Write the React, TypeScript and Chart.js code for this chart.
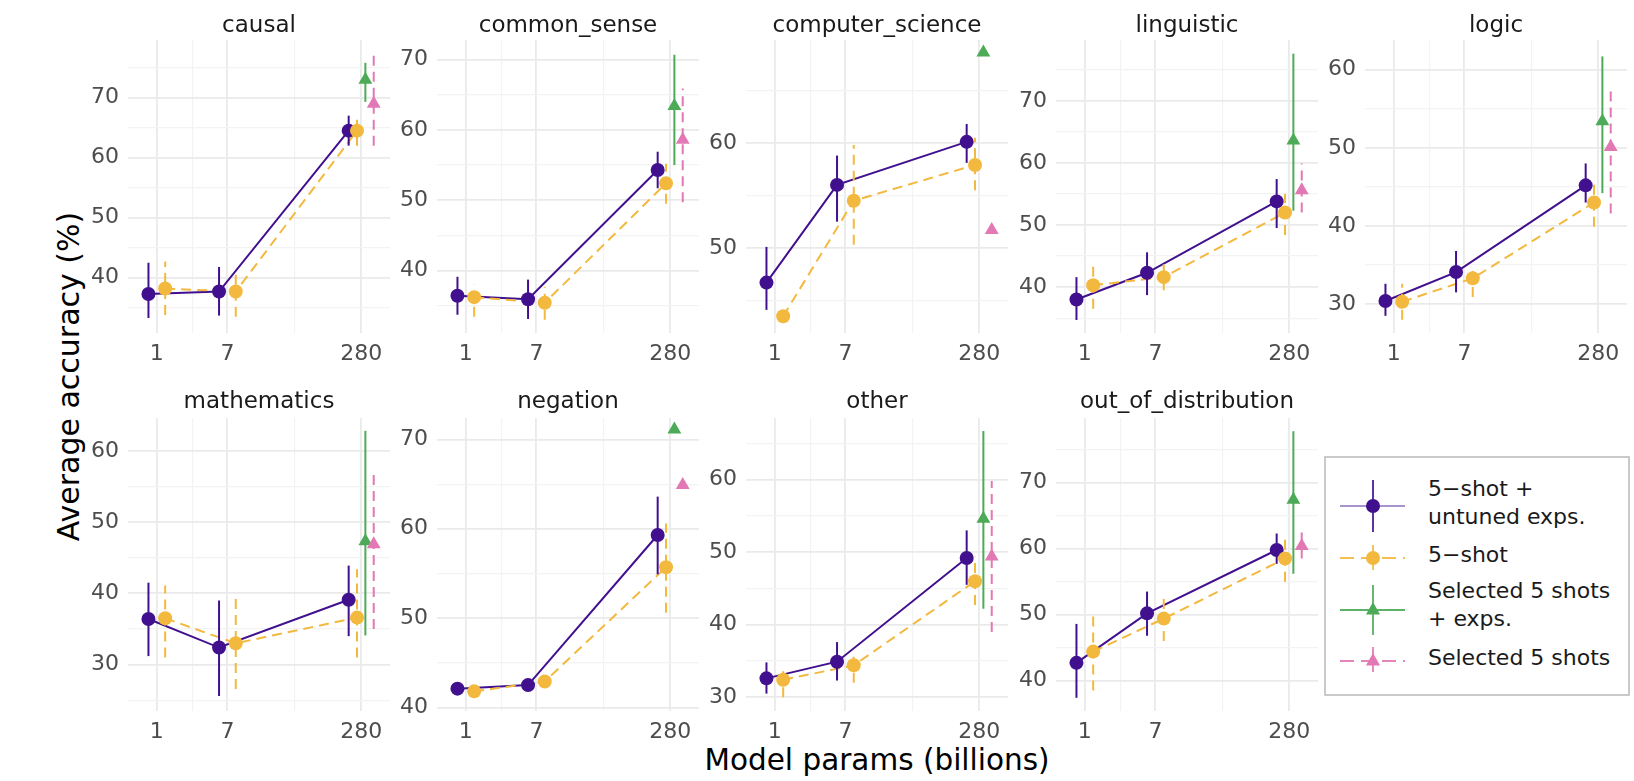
import React, { useEffect, useRef } from "react";
import { Chart, registerables } from "chart.js";

Chart.register(...registerables);
Chart.defaults.font.family = "'DejaVu Sans', 'Liberation Sans', sans-serif";

// ---------------- data ----------------
const FACETS = [
  "causal",
  "common_sense",
  "computer_science",
  "linguistic",
  "logic",
  "mathematics",
  "negation",
  "other",
  "out_of_distribution",
];
const MODEL_PARAMS = [1, 7, 280];
const X_TICK_LABELS = ["1", "7", "280"];
const SERIES_LABELS = [
  ["5\u2212shot +", "untuned exps."],
  ["5\u2212shot"],
  ["Selected 5 shots", "+ exps."],
  ["Selected 5 shots"],
];

// 5-shot + untuned exps. (per facet: at 1B, 7B, 280B)
const untunedMean = [
  [37.3, 37.7, 64.5],
  [36.4, 35.9, 54.3],
  [46.7, 56.0, 60.1],
  [38.0, 42.3, 53.8],
  [30.4, 34.1, 45.2],
  [36.4, 32.4, 39.1],
  [42.1, 42.5, 59.3],
  [32.6, 34.9, 49.2],
  [42.7, 50.2, 59.8],
];
const untunedLow = [
  [33.3, 33.7, 62.0],
  [33.7, 33.1, 51.7],
  [44.1, 52.5, 58.1],
  [34.7, 38.7, 49.5],
  [28.5, 31.5, 43.0],
  [31.2, 25.6, 34.0],
  [41.7, 42.1, 54.9],
  [30.5, 32.3, 45.5],
  [37.4, 46.8, 57.7],
];
const untunedHigh = [
  [42.5, 41.8, 67.0],
  [39.1, 38.7, 56.9],
  [50.1, 58.8, 61.8],
  [41.6, 45.6, 57.4],
  [32.6, 36.8, 48.0],
  [41.5, 39.0, 43.9],
  [42.5, 42.9, 63.6],
  [34.8, 37.6, 53.0],
  [48.6, 53.5, 62.3],
];

// 5-shot
const fiveShotMean = [
  [38.2, 37.7, 64.5],
  [36.2, 35.4, 52.4],
  [43.5, 54.5, 57.9],
  [40.3, 41.6, 52.0],
  [30.3, 33.3, 43.0],
  [36.5, 33.0, 36.6],
  [41.8, 42.9, 55.7],
  [32.4, 34.4, 46.0],
  [44.4, 49.4, 58.5],
];
const fiveShotLow = [
  [33.8, 33.5, 62.0],
  [33.4, 33.0, 49.5],
  [43.5, 50.3, 55.5],
  [36.5, 39.5, 48.4],
  [28.0, 30.9, 39.9],
  [31.0, 26.6, 31.0],
  [41.5, 42.5, 50.6],
  [30.0, 32.0, 42.7],
  [38.5, 46.0, 55.0],
];
const fiveShotHigh = [
  [42.7, 40.8, 66.8],
  [38.0, 37.7, 55.2],
  [43.5, 59.8, 60.5],
  [44.1, 44.0, 55.0],
  [32.6, 35.0, 45.3],
  [41.1, 39.2, 43.4],
  [42.1, 43.3, 60.6],
  [34.3, 36.3, 49.4],
  [49.9, 53.2, 61.5],
];

// Selected 5 shots + exps. (280B only, per facet)
const selectedExpMean = [73.0, 63.4, 68.6, 63.6, 53.4, 47.3, 71.1, 54.6, 67.4];
const selectedExpLow = [69.3, 55.0, 68.6, 52.3, 44.2, 34.1, 71.1, 42.2, 56.2];
const selectedExpHigh = [75.8, 70.7, 68.6, 77.6, 61.7, 62.8, 71.1, 66.7, 77.8];

// Selected 5 shots (280B only, per facet)
const selectedMean = [69.0, 58.6, 51.7, 55.6, 50.1, 46.9, 64.9, 49.4, 60.4];
const selectedLow = [62.0, 49.7, 51.7, 52.0, 41.6, 35.0, 64.9, 39.0, 58.5];
const selectedHigh = [77.2, 65.9, 51.7, 59.9, 57.8, 56.6, 64.9, 59.8, 62.6];

// y-axis ranges per facet (free scales)
const yAxisMin = [30.8, 31.1, 41.9, 32.6, 26.3, 23.5, 39.6, 28.1, 35.4];
const yAxisMax = [79.6, 72.8, 69.8, 79.8, 63.8, 64.6, 72.4, 68.5, 79.8];

// ---------------- styling / layout ----------------
const PURPLE = "#41108E";
const ORANGE = "#F3B93F";
const GREEN = "#4DAA57";
const PINK = "#E278B4";
const DASH = [10, 6];

const X_MIN = -0.345;
const X_MAX = 2.792;
const DODGE = 0.4;

const PANEL_W = 262;
const PANEL_H = 293;
const COL_LEFTS = [128, 437, 746, 1056, 1365];
const ROW_TOPS = [40, 418];
const YW = 72;
const TOPPAD = 40;
const XH = 44;
const RIGHTPAD = 8;

const log10 = (v: number) => Math.log10(v);
const majorX = MODEL_PARAMS.map(log10);
const minorX = majorX.slice(0, -1).map((v, i) => (v + majorX[i + 1]) / 2);
const xGrid = [...majorX, ...minorX].sort((a, b) => a - b);
const isMajorX = (v: number) => majorX.some((m) => Math.abs(m - v) < 1e-6);

const dodge = (k: number, n: number) => (k - (n - 1) / 2) * (DODGE / n);

const stripTitle = {
  id: "stripTitle",
  afterDraw(chart: any, _args: any, opts: any) {
    const { ctx, chartArea } = chart;
    ctx.save();
    ctx.font = "23px 'DejaVu Sans'";
    ctx.fillStyle = "#1A1A1A";
    ctx.textAlign = "center";
    ctx.textBaseline = "alphabetic";
    ctx.fillText(opts.text, (chartArea.left + chartArea.right) / 2, chartArea.top + opts.offset);
    ctx.restore();
  },
};

function buildDatasets(i: number) {
  const ds: any[] = [];
  const line = (pts: any[], color: string, dash: number[]) => ({
    data: pts,
    showLine: true,
    borderColor: color,
    borderWidth: 2,
    borderDash: dash,
    pointRadius: 0,
    pointHoverRadius: 0,
  });
  const points = (pts: any[], color: string, style: string, r: number) => ({
    data: pts,
    showLine: false,
    pointStyle: style,
    pointRadius: r,
    pointHoverRadius: r,
    pointBackgroundColor: color,
    pointBorderColor: color,
    pointBorderWidth: 0,
  });

  const series = [
    { mean: untunedMean[i], lo: untunedLow[i], hi: untunedHigh[i], color: PURPLE, dash: [] as number[] },
    { mean: fiveShotMean[i], lo: fiveShotLow[i], hi: fiveShotHigh[i], color: ORANGE, dash: DASH },
  ];
  const xOf = (j: number, k: number) => majorX[j] + dodge(k, j < 2 ? 2 : 4);

  // connecting lines
  series.forEach((s, k) => {
    ds.push(line(s.mean.map((y, j) => ({ x: xOf(j, k), y })), s.color, s.dash));
  });
  // pointranges for the two full series
  series.forEach((s, k) => {
    s.mean.forEach((_, j) => {
      ds.push(line([{ x: xOf(j, k), y: s.lo[j] }, { x: xOf(j, k), y: s.hi[j] }], s.color, s.dash));
    });
    ds.push(points(s.mean.map((y, j) => ({ x: xOf(j, k), y })), s.color, "circle", 7));
  });
  // selected shots series (280B only)
  const extra = [
    { mean: selectedExpMean[i], lo: selectedExpLow[i], hi: selectedExpHigh[i], color: GREEN, dash: [] as number[] },
    { mean: selectedMean[i], lo: selectedLow[i], hi: selectedHigh[i], color: PINK, dash: DASH },
  ];
  extra.forEach((s, e) => {
    const x = majorX[2] + dodge(2 + e, 4);
    ds.push(line([{ x, y: s.lo }, { x, y: s.hi }], s.color, s.dash));
    ds.push(points([{ x, y: s.mean }], s.color, "triangle", 8));
  });
  ds.forEach((d, idx) => (d.order = -idx));
  return ds;
}

function Facet({ index }: { index: number }) {
  const ref = useRef<HTMLCanvasElement>(null);
  const col = index % 5;
  const row = Math.floor(index / 5);
  const left = COL_LEFTS[col];
  const top = ROW_TOPS[row];
  const cw = YW + PANEL_W + RIGHTPAD;
  const ch = TOPPAD + PANEL_H + XH;

  useEffect(() => {
    if (!ref.current) return;
    const chart = new Chart(ref.current, {
      type: "scatter",
      data: { datasets: buildDatasets(index) },
      plugins: [stripTitle],
      options: {
        animation: false,
        responsive: false,
        events: [],
        layout: { padding: { top: TOPPAD, right: RIGHTPAD, left: 0, bottom: 0 } },
        plugins: {
          legend: { display: false },
          tooltip: { enabled: false },
          stripTitle: { text: FACETS[index], offset: row === 0 ? -8.5 : -10 },
        } as any,
        scales: {
          x: {
            type: "linear",
            min: X_MIN,
            max: X_MAX,
            afterBuildTicks: (s: any) => {
              s.ticks = xGrid.map((v) => ({ value: v }));
            },
            afterFit: (s: any) => {
              s.height = XH;
            },
            ticks: {
              autoSkip: false,
              maxRotation: 0,
              padding: 8,
              color: "#4D4D4D",
              font: { size: 22 },
              callback: (v: any) => {
                const idx = majorX.findIndex((m) => Math.abs(m - v) < 1e-6);
                return idx >= 0 ? X_TICK_LABELS[idx] : "";
              },
            },
            grid: {
              drawTicks: false,
              color: (c: any) => (isMajorX(c.tick.value) ? "#EAEAEA" : "#F3F3F3"),
              lineWidth: (c: any) => (isMajorX(c.tick.value) ? 1.8 : 1.2),
            },
            border: { display: false },
          },
          y: {
            type: "linear",
            min: yAxisMin[index],
            max: yAxisMax[index],
            afterBuildTicks: (s: any) => {
              const t = [];
              for (let v = Math.ceil(s.min / 5) * 5; v <= s.max + 1e-9; v += 5) t.push({ value: v });
              s.ticks = t;
            },
            afterFit: (s: any) => {
              s.width = YW;
            },
            ticks: {
              autoSkip: false,
              padding: 9,
              color: "#4D4D4D",
              font: { size: 22 },
              callback: (v: any) => (Math.round(v) % 10 === 0 ? String(Math.round(v)) : ""),
            },
            grid: {
              drawTicks: false,
              color: (c: any) => (Math.round(c.tick.value) % 10 === 0 ? "#EAEAEA" : "#F3F3F3"),
              lineWidth: (c: any) => (Math.round(c.tick.value) % 10 === 0 ? 1.8 : 1.2),
            },
            border: { display: false },
          },
        },
      },
    } as any);
    return () => chart.destroy();
  }, [index]);

  return (
    <canvas
      ref={ref}
      width={cw}
      height={ch}
      style={{ position: "absolute", left: left - YW, top: top - TOPPAD, width: cw, height: ch }}
    />
  );
}

function Legend() {
  const colors = [PURPLE, ORANGE, GREEN, PINK];
  const keyY = [506, 558, 610, 661];
  const barHalf = [26, 13, 25, 14];
  const baselines = [[496, 524], [562], [598, 626], [665]];
  const dashed = [false, true, false, true];
  const tri = [false, false, true, true];
  const kx = 1373;
  return (
    <g>
      <rect x={1325} y={457} width={304} height={238} fill="#FFFFFF" stroke="#BDBDBD" strokeWidth={1.6} />
      {colors.map((c, i) => {
        const cy = keyY[i];
        return (
          <g key={i}>
            <line
              x1={1340}
              x2={1405}
              y1={cy}
              y2={cy}
              stroke={c}
              strokeWidth={2}
              strokeOpacity={i === 0 ? 0.45 : 0.9}
              strokeDasharray={dashed[i] ? "14 7" : undefined}
            />
            <line
              x1={kx}
              x2={kx}
              y1={cy - barHalf[i]}
              y2={cy + barHalf[i]}
              stroke={c}
              strokeWidth={2}
              strokeOpacity={0.85}
              strokeDasharray={dashed[i] ? "10 5" : undefined}
            />
            {tri[i] ? (
              <polygon points={`${kx},${cy - 8} ${kx - 7},${cy + 4.5} ${kx + 7},${cy + 4.5}`} fill={c} />
            ) : (
              <circle cx={kx} cy={cy} r={7} fill={c} />
            )}
            {SERIES_LABELS[i].map((t, j) => (
              <text
                key={j}
                x={1428}
                y={baselines[i][j]}
                fontSize={22}
                fontFamily="'DejaVu Sans', sans-serif"
                fill="#1A1A1A"
              >
                {t}
              </text>
            ))}
          </g>
        );
      })}
    </g>
  );
}

export default function App() {
  useEffect(() => {
    document.body.style.margin = "0";
  }, []);
  return (
    <div
      style={{
        position: "absolute",
        left: 0,
        top: 0,
        width: 1634,
        height: 781,
        background: "#FFFFFF",
        overflow: "hidden",
      }}
    >
      <svg width={1634} height={781} style={{ position: "absolute", left: 0, top: 0 }}>
        <text
          transform="translate(79,376.5) rotate(-90)"
          textAnchor="middle"
          fontSize={30}
          fontFamily="'DejaVu Sans', sans-serif"
          fill="#000000"
        >
          Average accuracy (%)
        </text>
        <text
          x={877}
          y={770}
          textAnchor="middle"
          fontSize={29.5}
          fontFamily="'DejaVu Sans', sans-serif"
          fill="#000000"
        >
          Model params (billions)
        </text>
        <Legend />
      </svg>
      {FACETS.map((_, i) => (
        <Facet key={i} index={i} />
      ))}
    </div>
  );
}
